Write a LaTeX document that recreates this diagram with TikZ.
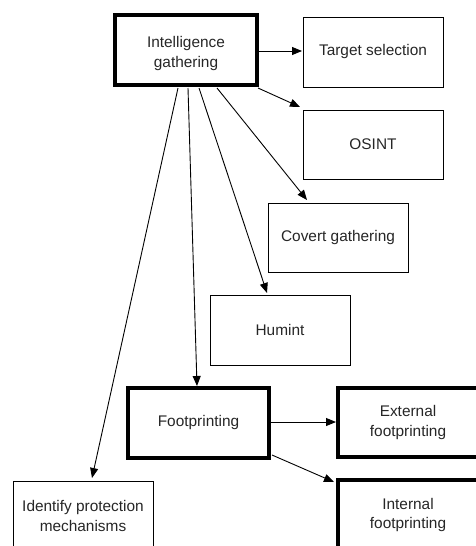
\documentclass[tikz,border=0pt]{standalone}
\usepackage{fontspec}
\setmainfont{Liberation Sans}
\usetikzlibrary{arrows.meta,calc}
\begin{document}
\begin{tikzpicture}[x=1pt,y=-1pt,
  box/.style={draw=black,line width=1pt,outer sep=0pt,inner sep=2pt,
    minimum width=140pt,minimum height=70pt,align=center,
    font=\fontsize{15.4}{19.5}\selectfont,text=black!85},
  thickbox/.style={box,line width=3.3pt},
  heavybox/.style={box,line width=4.5pt},
  arr/.style={draw=black,line width=0.9pt,-{Triangle[length=10pt,width=8pt]}}]
\useasboundingbox (0,0) rectangle (475,546);
\node[heavybox,minimum width=142pt] (ig) at (186,50) {\rule{0pt}{18pt}Intelligence\\gathering};
\node[box] (ts) at (373,52) {Target selection};
\node[box,minimum height=69pt] (osint) at (373,144.5) {OSINT};
\node[box,minimum height=69pt] (cg) at (338,237.5) {Covert gathering};
\node[box] (hum) at (280,330) {Humint};
\node[thickbox,minimum width=141pt] (fp) at (198.5,423) {Footprinting};
\node[thickbox,minimum height=69pt] (ext) at (408,422.5) {External\\footprinting};
\node[thickbox] (int) at (408,515) {Internal\\footprinting};
\node[box] (idp) at (83,516) {Identify protection\\mechanisms};
% arrows from Intelligence gathering
\draw[arr] ($(ig.east)+(2,1)$) -- ($(ts.west)+(-1,-1)$);
\draw[arr] ($(ig.south east)+(1,3)$) -- ($(osint.north west)+(-3,-3)$);
\draw[arr] ($(ig.south west)+(102,3)$) -- ($(cg.north west)+(39,-3)$);
\draw[arr] ($(ig.south west)+(84,3)$) -- ($(hum.north west)+(57,-2)$);
\draw[arr] ($(ig.south west)+(73,3)$) -- ($(fp.north west)+(69,-2)$);
\draw[arr] ($(ig.south west)+(63,3)$) -- ($(idp.north west)+(79,-3)$);
% arrows from Footprinting
\draw[arr] ($(fp.east)+(2,-1)$) -- ($(ext.west)+(-2,-0.5)$);
\draw[arr] ($(fp.south east)+(3,-3)$) -- ($(int.north west)+(-4,2)$);
\end{tikzpicture}
\end{document}
